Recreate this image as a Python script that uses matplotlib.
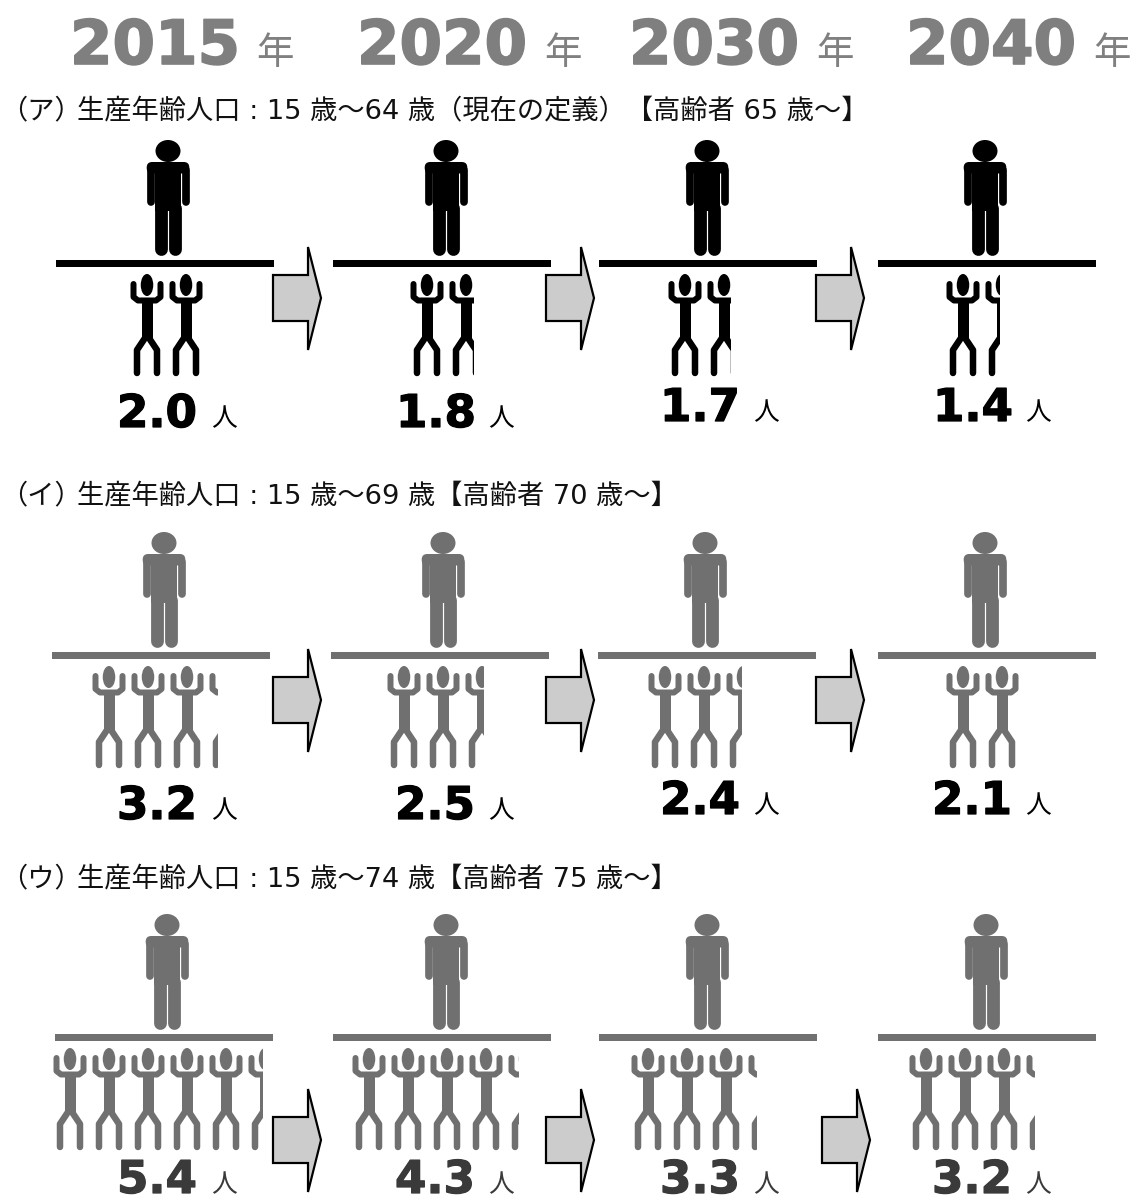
import math

import matplotlib
matplotlib.use("Agg")
import matplotlib.pyplot as plt
import matplotlib.patheffects as pe
from matplotlib.patches import Ellipse, FancyBboxPatch, Polygon, Rectangle

plt.rcParams['font.family'] = ['DejaVu Sans', 'Noto Sans CJK JP']
BOLD = ['DejaVu Sans']
CJK = ['Noto Sans CJK JP']

# data
years = ["2015", "2020", "2030", "2040"]
year_unit = "年"
person_unit = "人"
row_marks = ["（ア）", "（イ）", "（ウ）"]
row_titles = [
    "生産年齢人口 : 15 歳～64 歳（現在の定義）【高齢者 65 歳～】",
    "生産年齢人口 : 15 歳～69 歳【高齢者 70 歳～】",
    "生産年齢人口 : 15 歳～74 歳【高齢者 75 歳～】",
]
supporters_a = [2.0, 1.8, 1.7, 1.4]
supporters_b = [3.2, 2.5, 2.4, 2.1]
supporters_c = [5.4, 4.3, 3.3, 3.2]

# layout, all in pixels of the 1134x1195 picture
year_x = [70, 357, 629, 906]
year_unit_x = [256, 544, 816, 1093]
title_y = [118, 503, 886]
row_top = [140, 532, 914]
row_color = ["#000000", "#707070", "#707070"]
value_color = ["#000000", "#000000", "#3a3a3a"]
line_left = [[56, 333, 599, 878], [52, 331, 598, 878], [55, 333, 599, 878]]
elder_x = [[168, 446, 707, 985], [164, 443, 705, 985], [167, 446, 707, 986]]
worker_x = [[131, 411, 669, 947], [93, 388, 649, 947], [54, 353, 632, 910]]
crop_right = [[209, 474, 731, 1000], [218, 484, 742, 1020], [263, 519, 757, 1035]]
value_x = [[117, 396, 660, 933], [117, 395, 660, 932], [117, 395, 660, 932]]
value_y = [[427, 427, 421, 421], [819, 819, 814, 814], [1193, 1193, 1193, 1193]]
unit_x = [[211, 488, 753, 1025], [211, 488, 753, 1025], [211, 488, 753, 1025]]
arrow_x = [[273, 546, 816], [273, 546, 816], [273, 546, 822]]
arrow_y = [298, 700, 1140]
PX = 0.72  # line widths are given in pixels


def draw_elder(ax, cx, top, color):
    ax.add_patch(Ellipse((cx, top + 11), 25, 22, color=color, lw=0))
    ax.add_patch(FancyBboxPatch((cx - 15.8, top + 27.5), 31.6, 0.5, boxstyle="round,pad=5.5",
                                color=color, lw=0))
    ax.add_patch(Rectangle((cx - 13.3, top + 25), 26.6, 46, color=color, lw=0))
    for side in (-1, 1):
        ax.plot([cx + side * 17.5] * 2, [top + 30, top + 62], color=color,
                lw=7.7 * PX, solid_capstyle="round")
        ax.plot([cx + side * 6.8] * 2, [top + 68, top + 109], color=color,
                lw=12.8 * PX, solid_capstyle="round")


def draw_worker(ax, left, top, color, clip):
    c = left + 16
    parts = [ax.add_patch(Ellipse((c, top + 11), 12.5, 22, color=color, lw=0))]
    parts += ax.plot([c - 13.5, c - 13.5, c - 9, c + 9, c + 13.5, c + 13.5],
                     [top + 10, top + 23, top + 26.5, top + 26.5, top + 23, top + 10],
                     color=color, lw=6 * PX, solid_capstyle="round", solid_joinstyle="round")
    parts += ax.plot([c, c], [top + 25, top + 64], color=color, lw=11 * PX, solid_capstyle="butt")
    for side in (-1, 1):
        parts += ax.plot([c, c + side * 10, c + side * 10], [top + 61, top + 76, top + 99],
                         color=color, lw=6.5 * PX, solid_capstyle="round", solid_joinstyle="round")
    for part in parts:
        part.set_clip_path(clip)


def draw_arrow(ax, x, y):
    outline = [(x, y - 23), (x + 35, y - 23), (x + 35, y - 51), (x + 48, y),
               (x + 35, y + 52), (x + 35, y + 23), (x, y + 23)]
    ax.add_patch(Polygon(outline, closed=True, facecolor="#cccccc", edgecolor="black",
                         lw=2.2 * PX, joinstyle="miter"))


fig = plt.figure(figsize=(11.34, 11.95), dpi=100)
ax = fig.add_axes([0, 0, 1, 1])
ax.set_xlim(0, 1134)
ax.set_ylim(1195, 0)
ax.axis("off")

for i, year in enumerate(years):
    t = ax.text(year_x[i], 64, year, color="#7f7f7f", fontsize=44, fontweight="bold",
                family=BOLD, va="baseline", ha="left")
    t.set_path_effects([pe.withStroke(linewidth=1.2, foreground="#7f7f7f")])
    ax.text(year_unit_x[i], 64, year_unit, color="#808080", fontsize=27, family=CJK,
            va="baseline", ha="left")

rows = [supporters_a, supporters_b, supporters_c]
for r, values in enumerate(rows):
    ax.text(0, title_y[r], row_marks[r], color="#111111", fontsize=19.6, family=CJK,
            va="baseline", ha="left")
    ax.text(77, title_y[r], row_titles[r], color="#111111", fontsize=19.6, va="baseline", ha="left")
    top = row_top[r]
    color = row_color[r]
    for i, value in enumerate(values):
        draw_elder(ax, elder_x[r][i], top, color)
        ax.add_patch(Rectangle((line_left[r][i], top + 120), 218, 6.5, color=color, lw=0))

        left = worker_x[r][i]
        width = crop_right[r][i] - left
        clip = Rectangle((left - 1, top + 120), width + 1, 120, transform=ax.transData)
        for n in range(math.ceil(width / 39)):
            draw_worker(ax, left + n * 39, top + 134, color, clip)

        t = ax.text(value_x[r][i], value_y[r][i], f"{value:.1f}", color=value_color[r],
                    fontsize=32.5, fontweight="bold", family=BOLD, va="baseline", ha="left")
        t.set_path_effects([pe.withStroke(linewidth=0.9, foreground=value_color[r])])
        ax.text(unit_x[r][i], value_y[r][i] - 1, person_unit, color=value_color[r], fontsize=18.5,
                family=CJK, va="baseline", ha="left")
    for x in arrow_x[r]:
        draw_arrow(ax, x, arrow_y[r])

fig.savefig("out.png", dpi=100, facecolor="white")
